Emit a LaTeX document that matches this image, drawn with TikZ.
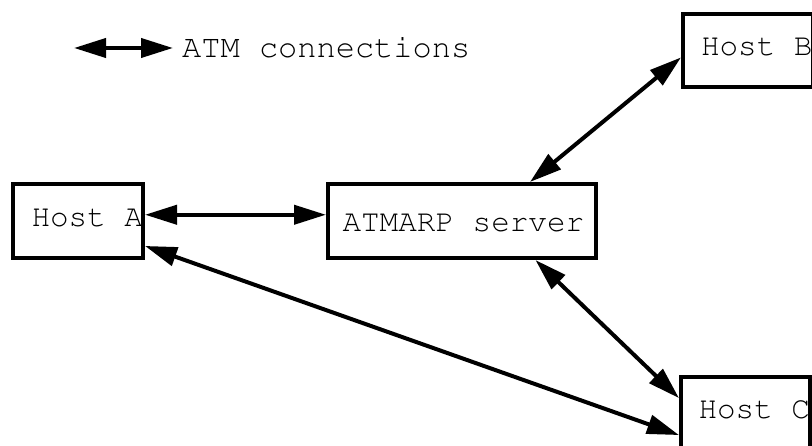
\documentclass[tikz,border=0pt]{standalone}
\usepackage[T1]{fontenc}
\newcommand\atmfont{\fontencoding{T1}\fontfamily{pcr}\selectfont}
\usetikzlibrary{arrows.meta, calc}

\begin{document}
\begin{tikzpicture}[
  x=1pt, y=-1pt,
  hostbox/.style={draw, line width=4pt, anchor=north west, inner sep=0pt, font=\atmfont\fontsize{31}{31}\selectfont},
  atmlink/.style={{Triangle[length=32pt,width=19pt]}-{Triangle[length=32pt,width=19pt]}, line width=4pt}
]
\useasboundingbox (0,0) rectangle (812,446);
\clip (0,0) rectangle (812,446);

% --- Legend ---
\coordinate (legl) at (74,48);
\coordinate (legr) at (173,48);
\node[anchor=base west, inner sep=0pt, font=\atmfont\fontsize{32}{32}\selectfont] (legend) at (182,57.3) {ATM connections};

% --- Hosts and server ---
\node[hostbox, text height=43pt, text depth=31pt] (hosta) at (11,182) {\makebox[130pt][l]{\hspace*{18.5pt}Host A}};
\node[hostbox, text height=48pt, text depth=26pt] (server) at (326,182) {\makebox[268pt][l]{\hspace*{14.5pt}ATMARP server}};
\node[hostbox, text height=42pt, text depth=31pt] (hostb) at (681,12) {\makebox[130pt][l]{\hspace*{18pt}Host B}};
\node[hostbox, text height=41.7pt, text depth=31.3pt] (hostc) at (679,375) {\makebox[129pt][l]{\hspace*{17.5pt}Host C}};

% --- ATM connections ---
\draw[atmlink] (legl) -- (legr);
\draw[atmlink] ($(hosta.north east)!0.42!(hosta.south east)$) -- ($(server.north west)!0.42!(server.south west)$);
\draw[atmlink] ($(server.north west)!0.75!(server.north east)$) -- ($(hostb.north west)!0.59!(hostb.south west)$);
\draw[atmlink] ($(server.south west)!0.77!(server.south east)$) -- ($(hostc.north west)!0.30!(hostc.south west)$);
\draw[atmlink] ($(hosta.north east)!0.82!(hosta.south east)$) -- ($(hostc.north west)!0.78!(hostc.south west)$);

\end{tikzpicture}
\end{document}
